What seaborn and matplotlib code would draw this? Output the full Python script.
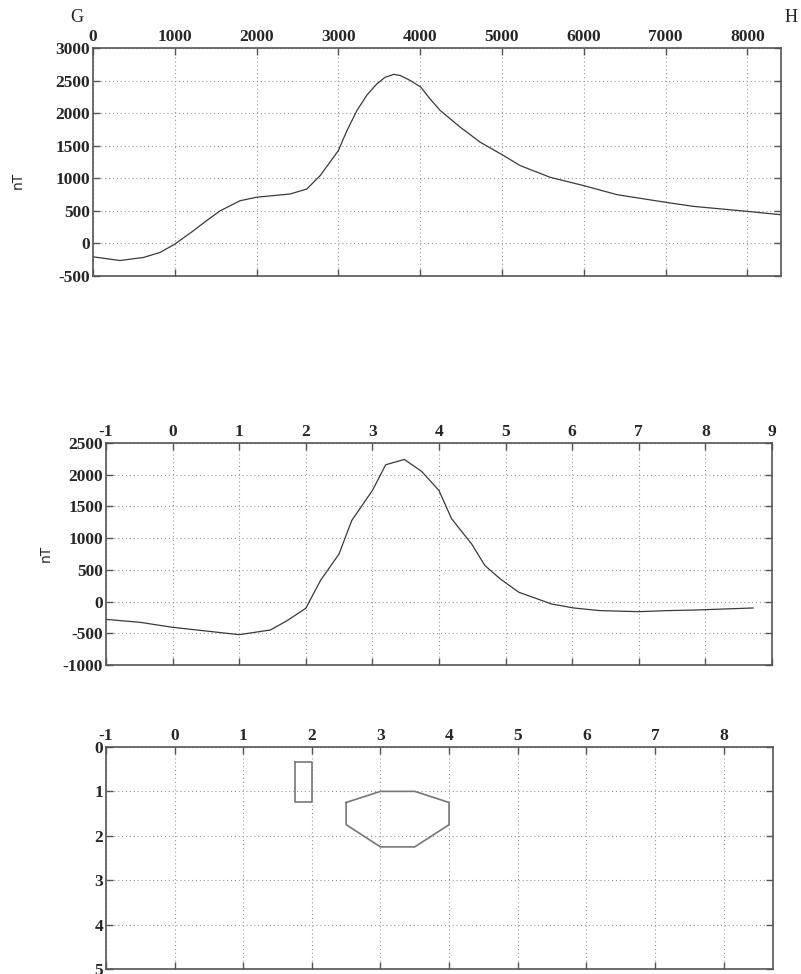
import numpy as np
import pandas as pd
import matplotlib
matplotlib.use("Agg")
import matplotlib.pyplot as plt
import seaborn as sns

# observed profile G-H (distance in m, field in nT)
obs_x = [0, 330, 616, 820, 1000, 1200, 1400, 1553, 1798, 2002, 2410, 2614,
         2777, 3000, 3100, 3227, 3350, 3472, 3570, 3676, 3755, 3878, 4008,
         4120, 4245, 4490, 4734, 5007, 5223, 5590, 6002, 6406, 7005, 7343,
         8004, 8412]
obs_nT = [-205, -262, -215, -138, -10, 170, 360, 500, 656, 710, 759, 836,
          1041, 1426, 1720, 2041, 2280, 2451, 2550, 2595, 2579, 2502, 2400,
          2220, 2041, 1785, 1554, 1359, 1195, 1015, 887, 749, 631, 569, 492,
          441]

# computed anomaly (distance in km)
calc_x = [-1, -0.49, 0, 1, 1.47, 1.72, 2, 2.22, 2.5, 2.69, 3, 3.2, 3.48,
          3.74, 4, 4.19, 4.49, 4.69, 4.92, 5.2, 5.69, 6.02, 6.42, 7, 7.42,
          7.86, 8.72]
calc_nT = [-280, -326, -405, -521, -447, -300, -105, 332, 753, 1279, 1752,
           2158, 2242, 2053, 1752, 1305, 910, 568, 358, 147, -37, -100, -142,
           -158, -142, -132, -100]

# model bodies (x in km, depth in km)
rect_x = [1.75, 2.0, 2.0, 1.75, 1.75]
rect_z = [0.33, 0.33, 1.25, 1.25, 0.33]
body_x = [2.5, 3.0, 3.5, 4.0, 4.0, 3.5, 3.0, 2.5, 2.5]
body_z = [1.25, 1.0, 1.0, 1.25, 1.75, 2.25, 2.25, 1.75, 1.25]

sns.set_style("white")
plt.rcParams["font.family"] = ["Liberation Serif", "DejaVu Serif"]
plt.rcParams["axes.unicode_minus"] = False

tick_font = dict(family="Liberation Serif", weight="bold", size=12.5)
edge = "#555555"
line_col = "#3a3a3a"

fig = plt.figure(figsize=(8.01, 9.74), dpi=100)
ax1 = fig.add_axes([0.1161, 0.7166, 0.859, 0.2341])
ax2 = fig.add_axes([0.1323, 0.3172, 0.8315, 0.2279])
ax3 = fig.add_axes([0.1323, 0.0051, 0.8327, 0.2280])


def style_axis(ax, xticks, yticks):
    ax.set_xticks(xticks)
    ax.set_yticks(yticks)
    ax.grid(True, linestyle=(0, (1, 2.5)), color="#999999", linewidth=0.8)
    ax.tick_params(axis="both", direction="in", length=5, width=1,
                   color=edge, top=True, bottom=True, left=True, right=True,
                   labeltop=True, labelbottom=False, pad=2)
    for lab in ax.get_xticklabels() + ax.get_yticklabels():
        lab.set_fontproperties(matplotlib.font_manager.FontProperties(**tick_font))
    for s in ax.spines.values():
        s.set_color(edge)
        s.set_linewidth(1.2)
    ax.set_xlabel("")
    ax.set_ylabel("")


# top: observed
sns.lineplot(x=obs_x, y=obs_nT, ax=ax1, color=line_col, linewidth=0.9,
             sort=False, estimator=None)
ax1.set_xlim(0, 8412)
ax1.set_ylim(-500, 3000)
style_axis(ax1, np.arange(0, 8001, 1000), np.arange(-500, 3001, 500))
ax1.set_ylabel("nT", family="DejaVu Sans", fontsize=10)
ax1.yaxis.set_label_coords(-0.099, 0.421)
fig.text(0.096, 0.982, "G", fontsize=13, ha="center", va="center")
fig.text(0.987, 0.982, "H", fontsize=13, ha="center", va="center")

# middle: computed
sns.lineplot(x=calc_x, y=calc_nT, ax=ax2, color=line_col, linewidth=0.9,
             sort=False, estimator=None)
ax2.set_xlim(-1, 9)
ax2.set_ylim(-1000, 2500)
style_axis(ax2, np.arange(-1, 10, 1), np.arange(-1000, 2501, 500))
ax2.set_ylabel("nT", family="DejaVu Sans", fontsize=10)
ax2.yaxis.set_label_coords(-0.080, 0.505)

# bottom: model
sns.lineplot(x=rect_x, y=rect_z, ax=ax3, color="#777777", linewidth=1.2,
             sort=False, estimator=None)
sns.lineplot(x=body_x, y=body_z, ax=ax3, color="#777777", linewidth=1.2,
             sort=False, estimator=None)
ax3.set_xlim(-1, 8.72)
ax3.set_ylim(5, 0)
style_axis(ax3, np.arange(-1, 9, 1), np.arange(0, 6, 1))

fig.savefig("out.png", dpi=100)
